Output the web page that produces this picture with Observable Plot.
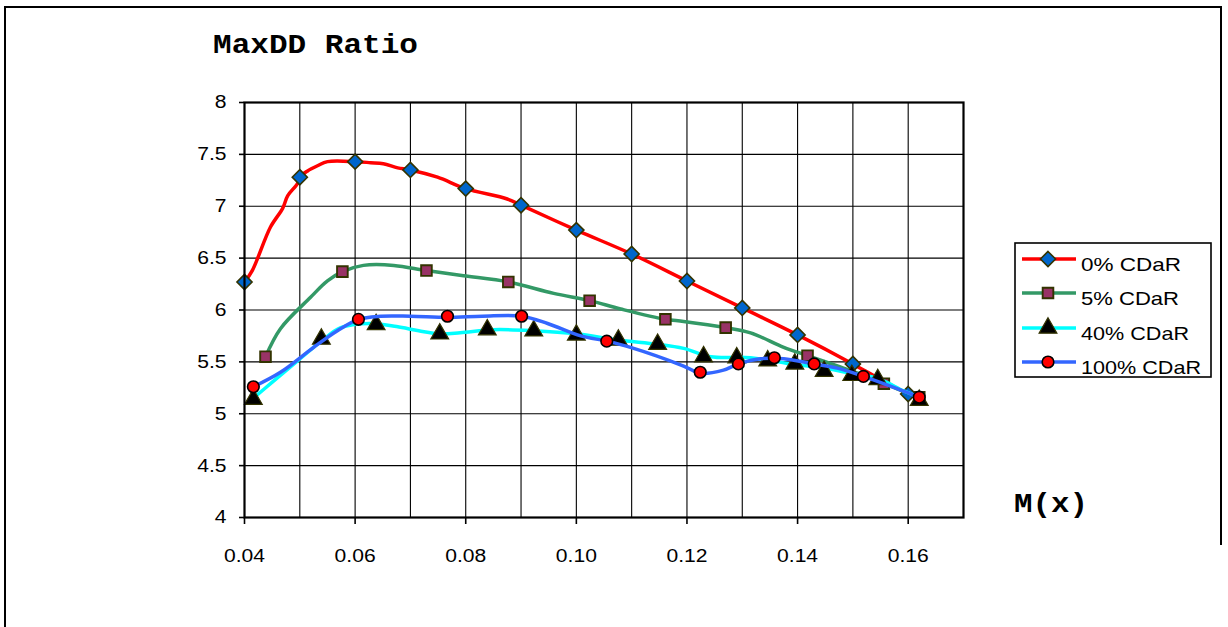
<!DOCTYPE html>
<html><head><meta charset="utf-8">
<script src="https://cdn.jsdelivr.net/npm/d3@7"></script>
<script src="https://cdn.jsdelivr.net/npm/@observablehq/plot@0.6"></script>
<style>
body{margin:0;background:#fff;}
#wrap{position:relative;width:1228px;height:627px;overflow:hidden;background:#fff;}
#wrap > svg{position:absolute;left:0;top:0;}
</style></head><body><div id="wrap"></div>
<script>
// ---- tick / grid values ----
const xTicks = [0.04, 0.06, 0.08, 0.10, 0.12, 0.14, 0.16];
const xGrid  = [0.05, 0.06, 0.07, 0.08, 0.09, 0.10, 0.11, 0.12, 0.13, 0.14, 0.15, 0.16];
const yTicks = [4, 4.5, 5, 5.5, 6, 6.5, 7, 7.5, 8];
const yGrid  = [4.5, 5, 5.5, 6, 6.5, 7, 7.5];

// ---- series names ----
const seriesNames = ["0% CDaR", "5% CDaR", "40% CDaR", "100% CDaR"];

// ---- 0% CDaR ----
const m0 = [[0.04,6.27],[0.05,7.28],[0.06,7.43],[0.07,7.35],[0.08,7.17],[0.09,7.01],[0.10,6.77],[0.11,6.54],[0.12,6.28],[0.13,6.02],[0.14,5.76],[0.15,5.48],[0.16,5.19]];
const l0 = [[0.04,6.27],[0.0414,6.38],[0.0447,6.80],[0.0469,6.98],[0.0478,7.10],[0.0496,7.22],[0.05,7.28],[0.0514,7.34],[0.0532,7.39],[0.055,7.43],[0.06,7.43],[0.0628,7.42],[0.0651,7.41],[0.0677,7.37],[0.07,7.35],[0.0749,7.28],[0.08,7.17],[0.0875,7.07],[0.09,7.01],[0.10,6.77],[0.11,6.54],[0.12,6.28],[0.13,6.02],[0.14,5.76],[0.15,5.48],[0.155,5.33],[0.16,5.19]];

// ---- 5% CDaR ----
const m5 = [[0.0438,5.55],[0.0577,6.37],[0.0729,6.38],[0.0877,6.27],[0.1024,6.09],[0.1161,5.91],[0.127,5.83],[0.1418,5.56],[0.1556,5.29],[0.162,5.16]];
const l5 = [[0.0438,5.55],[0.0465,5.82],[0.0519,6.12],[0.055,6.28],[0.0577,6.37],[0.0615,6.43],[0.067,6.43],[0.0729,6.38],[0.0796,6.33],[0.0877,6.27],[0.0959,6.16],[0.1024,6.09],[0.108,6.01],[0.1161,5.91],[0.1194,5.89],[0.127,5.83],[0.1315,5.78],[0.1375,5.64],[0.1418,5.56],[0.1472,5.46],[0.1519,5.37],[0.1556,5.29],[0.162,5.16]];

// ---- 40% CDaR ----
const m40 = [[0.0416,5.14],[0.0539,5.72],[0.0638,5.86],[0.0753,5.77],[0.0839,5.81],[0.0923,5.80],[0.100,5.76],[0.1076,5.71],[0.1147,5.67],[0.123,5.55],[0.129,5.54],[0.1346,5.51],[0.1395,5.48],[0.1448,5.41],[0.1498,5.37],[0.1545,5.33],[0.162,5.13]];
const l40 = [[0.0416,5.15],[0.0447,5.29],[0.0496,5.51],[0.0539,5.70],[0.0574,5.83],[0.0625,5.87],[0.0675,5.84],[0.0715,5.80],[0.0753,5.77],[0.079,5.78],[0.085,5.81],[0.0923,5.80],[0.100,5.77],[0.1076,5.71],[0.1147,5.67],[0.1194,5.63],[0.1243,5.55],[0.1315,5.54],[0.1387,5.48],[0.1447,5.44],[0.1496,5.39],[0.1545,5.34],[0.1592,5.22],[0.162,5.16]];

// ---- 100% CDaR ----
const m100 = [[0.0416,5.26],[0.0606,5.91],[0.0767,5.94],[0.0901,5.94],[0.1055,5.70],[0.1224,5.40],[0.1293,5.48],[0.1358,5.54],[0.143,5.48],[0.1519,5.36],[0.162,5.16]];
const l100 = [[0.0416,5.26],[0.0465,5.40],[0.0525,5.64],[0.0568,5.80],[0.0606,5.91],[0.0646,5.94],[0.070,5.94],[0.0767,5.93],[0.083,5.94],[0.0901,5.94],[0.0948,5.87],[0.1008,5.75],[0.1055,5.70],[0.1098,5.64],[0.1194,5.46],[0.1224,5.39],[0.1266,5.42],[0.1293,5.48],[0.1333,5.53],[0.1375,5.53],[0.143,5.48],[0.1472,5.44],[0.1519,5.36],[0.1581,5.24],[0.162,5.16]];

const styles = [
  {line:"#FF0000", symbol:"diamond2", r:6.8, fill:"#0066CC", stroke:"#333300", sw:1.6},
  {line:"#339966", symbol:"square",   r:6.0, fill:"#993366", stroke:"#333300", sw:1.9},
  {line:"#00FFFF", symbol:"triangle", r:6.6, fill:"#000000", stroke:"#333300", sw:1.2},
  {line:"#3366FF", symbol:"circle",   r:5.8, fill:"#FF0000", stroke:"#000000", sw:1.6}
];
const lines = [l0, l5, l40, l100];
const markers = [m0, m5, m40, m100];

const seriesMarks = [];
lines.forEach((ln, i) => {
  const s = styles[i];
  seriesMarks.push(Plot.line(ln, {x: d => d[0], y: d => d[1], stroke: s.line, strokeWidth: 3.5, curve: "catmull-rom"}));
  seriesMarks.push(Plot.dot(markers[i], {x: d => d[0], y: d => d[1], symbol: s.symbol, r: s.r, fill: s.fill, stroke: s.stroke, strokeWidth: s.sw}));
});

const plot = Plot.plot({
  width: 1228, height: 627,
  marginLeft: 244, marginRight: 265, marginTop: 102, marginBottom: 110,
  x: {domain: [0.04, 0.17], ticks: xTicks, tickFormat: d3.format(".2f"), tickSize: 7, tickPadding: 24, label: null},
  y: {domain: [4, 8], ticks: yTicks, tickFormat: d => String(d), tickSize: 5, tickPadding: 13, label: null},
  style: {fontFamily: "'Liberation Sans', Arial, sans-serif", fontSize: "18.5px", color: "#000", background: "transparent"},
  marks: [
    Plot.ruleX(xGrid, {stroke: "#000", strokeWidth: 1.1}),
    Plot.ruleY(yGrid, {stroke: "#000", strokeWidth: 1.1}),
    ...seriesMarks,
    Plot.frame({stroke: "#000", strokeWidth: 2.2})
  ]
});

const wrap = document.getElementById("wrap");
wrap.appendChild(plot);

// stretch tick labels horizontally like the reference
plot.querySelectorAll('g[aria-label$="tick label"] text').forEach(t => {
  const tr = t.getAttribute("transform");
  if (tr && tr.includes("translate")) {
    t.setAttribute("transform", tr + " scale(1.14,1)");
  } else {
    const x = +t.getAttribute("x") || 0, y = +t.getAttribute("y") || 0;
    t.removeAttribute("x"); t.removeAttribute("y");
    t.setAttribute("transform", `translate(${x},${y}) scale(1.14,1)`);
  }
});
plot.querySelectorAll('g[aria-label$="tick"] path, g[aria-label$="tick"] line').forEach(p => p.setAttribute("stroke-width", "1.6"));

// ---- overlay: border, title, axis name, legend ----
const ov = d3.select(wrap).append("svg").attr("width", 1228).attr("height", 627);
ov.append("path").attr("d", "M5,627 V7 H1221 V545").attr("fill", "none").attr("stroke", "#000").attr("stroke-width", 2);
ov.append("text").attr("x", 213).attr("y", 53).attr("font-family", "'Liberation Mono', 'Courier New', monospace")
  .attr("font-weight", "bold").attr("font-size", 27).attr("textLength", 205).attr("lengthAdjust", "spacingAndGlyphs").text("MaxDD Ratio");
ov.append("text").attr("x", 1014).attr("y", 512).attr("font-family", "'Liberation Mono', 'Courier New', monospace")
  .attr("font-weight", "bold").attr("font-size", 27).attr("textLength", 74).attr("lengthAdjust", "spacingAndGlyphs").text("M(x)");

const lg = ov.append("g");
lg.append("rect").attr("x", 1015).attr("y", 243).attr("width", 196).attr("height", 134).attr("fill", "#fff").attr("stroke", "#000").attr("stroke-width", 1.6);
const lgY = [259, 293, 328, 362];
const lgW = [100, 98, 108, 120];
const symMap = {diamond2: d3.symbolDiamond2, square: d3.symbolSquare, triangle: d3.symbolTriangle, circle: d3.symbolCircle};
seriesNames.forEach((name, i) => {
  const s = styles[i], y = lgY[i];
  lg.append("line").attr("x1", 1022).attr("x2", 1076).attr("y1", y).attr("y2", y).attr("stroke", s.line).attr("stroke-width", 3.5);
  lg.append("path").attr("transform", `translate(1048,${y})`)
    .attr("d", d3.symbol(symMap[s.symbol], Math.PI * s.r * s.r)())
    .attr("fill", s.fill).attr("stroke", s.stroke).attr("stroke-width", s.sw);
  lg.append("text").attr("x", 1081).attr("y", y + 12).attr("font-family", "'Liberation Sans', Arial, sans-serif")
    .attr("font-size", 18.5).attr("textLength", lgW[i]).attr("lengthAdjust", "spacingAndGlyphs").text(name);
});
</script>
</body></html>
